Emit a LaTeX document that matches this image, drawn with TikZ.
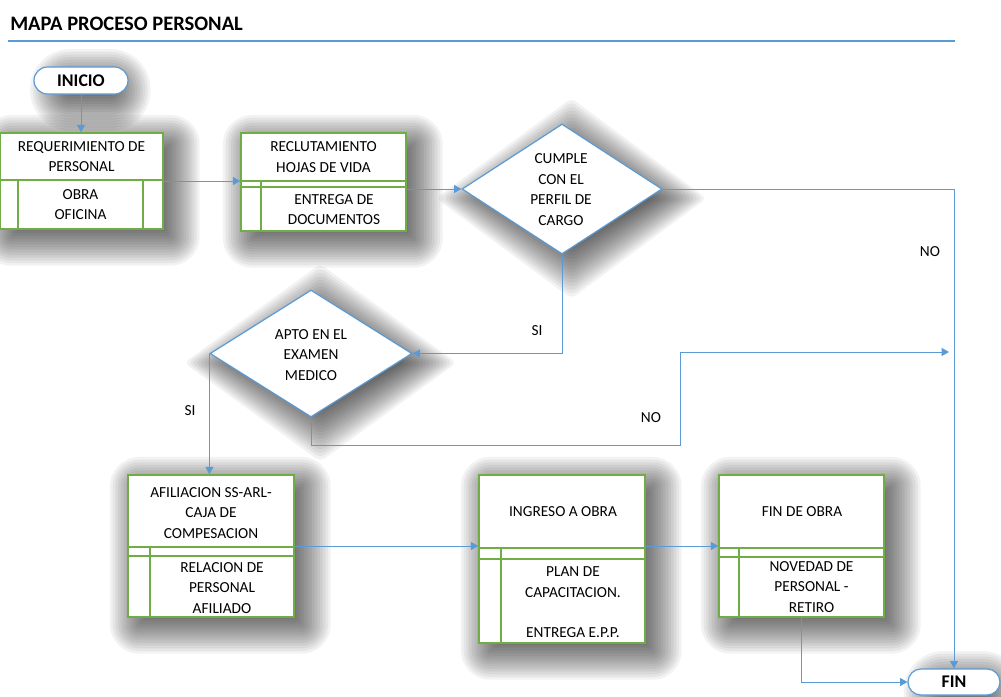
\documentclass[tikz,border=0pt]{standalone}
\usepackage{fontspec}
\setmainfont{Carlito}
\usetikzlibrary{shapes.geometric,shapes.misc,arrows.meta,calc,backgrounds}
\definecolor{flowblue}{RGB}{91,155,213}
\definecolor{boxgreen}{RGB}{112,173,71}

% soft drop shadow built from stacked translucent layers
\newcommand{\boxshade}[2]{% node, base corner radius
  \foreach \e in {-10,-8,...,20}{%
    \pgfmathsetmacro{\xa}{7-\e}\pgfmathsetmacro{\ya}{-7-\e}%
    \pgfmathsetmacro{\xb}{7+\e}\pgfmathsetmacro{\yb}{-7+\e}%
    \pgfmathsetmacro{\rc}{max(#2+\e,1)}%
    \fill[black, opacity=0.05, rounded corners=\rc pt]
      ($(#1.south west)+(\xa pt,\ya pt)$) rectangle ($(#1.north east)+(\xb pt,\yb pt)$);
  }}
\newcommand{\diamondshade}[1]{%
  \foreach \e in {-10,-8,...,20}{%
    \pgfmathsetmacro{\ee}{1.3*\e}%
    \fill[black, opacity=0.05, rounded corners=4pt]
      ($(#1.north)+(7pt,-7pt)+(0pt,\ee pt)$) -- ($(#1.east)+(7pt,-7pt)+(\ee pt,0pt)$) --
      ($(#1.south)+(7pt,-7pt)+(0pt,-\ee pt)$) -- ($(#1.west)+(7pt,-7pt)+(-\ee pt,0pt)$) -- cycle;
  }}

\begin{document}
\begin{tikzpicture}[x=0.75pt,y=-0.75pt,
  txt/.style={font=\fontsize{11.5}{15.3}\selectfont, align=center, inner sep=0pt, text=black},
  procbox/.style={draw=boxgreen, line width=1.1pt, fill=white, inner sep=0pt},
  decision/.style={diamond, draw=flowblue, line width=0.9pt, fill=white, inner sep=0pt},
  terminal/.style={rounded rectangle, draw=flowblue, line width=0.9pt, fill=white, inner sep=0pt, font=\fontsize{13.4}{15}\selectfont\bfseries},
  flow/.style={draw=flowblue, line width=0.75pt, -{Triangle[length=5.5pt,width=6pt]}},
  divider/.style={draw=boxgreen, line width=1.1pt},
  tag/.style={font=\fontsize{11.5}{13}\selectfont, inner sep=0pt}
]
% canvas
\begin{scope}[on background layer]
  \fill[white] (0,0) rectangle (1001,697);
\end{scope}
\useasboundingbox (0,0) rectangle (1001,697);

% heading
\node[anchor=west, font=\fontsize{15.4}{17}\selectfont\bfseries, inner sep=0pt] (title) at (10,24) {MAPA PROCESO PERSONAL};
\draw[flowblue, line width=1.5pt] (8,41) -- (955,41);

% start
\node[terminal, minimum width=70.5pt, minimum height=20.25pt] (inicio) at (81,80.5) {INICIO};

% requirement
\node[procbox, minimum width=122.25pt, minimum height=72pt] (b1) at (81.5,181) {};
\draw[divider] (0,180) -- (163,180) (18,180) -- (18,229) (143,180) -- (143,229);
\node[txt] (b1t) at (81.5,156.5) {REQUERIMIENTO DE\\PERSONAL};
\node[txt] (b1b) at (80.5,204.5) {OBRA\\OFICINA};

% recruiting
\node[procbox, minimum width=123.75pt, minimum height=73.5pt] (b2) at (323.5,182) {};
\draw[divider] (241,181) -- (406,181) (241,187) -- (406,187) (261,181) -- (261,231);
\node[txt] (b2t) at (323.5,157) {RECLUTAMIENTO\\HOJAS DE VIDA};
\node[txt] (b2b) at (334,209.5) {ENTREGA DE\\DOCUMENTOS};

% profile check
\node[decision, minimum width=150pt, minimum height=97.5pt] (d1) at (562,189) {};
\node[txt] (d1t) at (561,189.5) {CUMPLE\\CON EL\\PERFIL DE\\CARGO};

% medical check
\node[decision, minimum width=151.5pt, minimum height=95.25pt] (d2) at (311,353.5) {};
\node[txt] (d2t) at (311,355) {APTO EN EL\\EXAMEN\\MEDICO};

% affiliation
\node[procbox, minimum width=124.5pt, minimum height=106.5pt] (b3) at (211,546) {};
\draw[divider] (128,547) -- (294,547) (128,556) -- (294,556) (150,547) -- (150,617);
\node[txt] (b3t) at (211,513) {AFILIACION SS-ARL-\\CAJA DE\\COMPESACION};
\node[txt] (b3b) at (222,588) {RELACION DE\\PERSONAL\\AFILIADO};

% site entry
\node[procbox, minimum width=124.5pt, minimum height=126pt] (b4) at (562,559) {};
\draw[divider] (479,548) -- (645,548) (479,559) -- (645,559) (501,548) -- (501,643);
\node[txt] (b4t) at (563,512) {INGRESO A OBRA};
\node[txt] (b4b) at (573,602.5) {PLAN DE\\CAPACITACION.\\[15.3pt]ENTREGA E.P.P.};

% end of site
\node[procbox, minimum width=123.75pt, minimum height=106.5pt] (b5) at (801.5,546) {};
\draw[divider] (719,548) -- (884,548) (719,557) -- (884,557) (739,548) -- (739,617);
\node[txt] (b5t) at (802,512) {FIN DE OBRA};
\node[txt] (b5b) at (811.5,587) {NOVEDAD DE\\PERSONAL -\\RETIRO};

% end
\node[terminal, minimum width=69pt, minimum height=19.5pt] (fin) at (954,682) {FIN};

% drop shadows behind the shapes
\begin{scope}[on background layer]
  \boxshade{inicio}{10}
  \boxshade{b1}{2}
  \boxshade{b2}{2}
  \boxshade{b3}{2}
  \boxshade{b4}{2}
  \boxshade{b5}{2}
  \boxshade{fin}{10}
  \diamondshade{d1}
  \diamondshade{d2}
\end{scope}

% connectors
\draw[flow] (inicio.south) -- (inicio.south |- b1.north);
\draw[flow] (b1.east) -- (b1.east -| b2.west);
\draw[flow] (d1.west -| b2.east) -- (d1.west);
\draw[flow] (d1.east) -| (fin.north);
\draw[flow] (d1.south) |- (d2.east);
\draw[flow] (d2.west) -- (d2.west |- b3.north);
\coordinate (n1) at (680,445);
\coordinate (n2) at (680,352);
\coordinate (nend) at (949,352);
\draw[flow] (d2.south) |- (n1) -- (n2) -- (nend);
\draw[flow] (b3.east) -- (b3.east -| b4.west);
\draw[flow] (b3.east -| b4.east) -- (b3.east -| b5.west);
\draw[flow] (b5.south) |- (fin.west);

% branch labels
\node[tag] (no1) at (930,252) {NO};
\node[tag] (si1) at (537,331) {SI};
\node[tag] (si2) at (190,411) {SI};
\node[tag] (no2) at (651,418) {NO};
\end{tikzpicture}
\end{document}
